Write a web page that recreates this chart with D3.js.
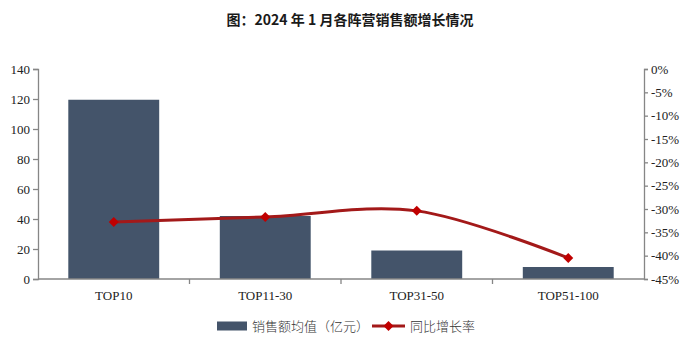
<!DOCTYPE html>
<html>
<head>
<meta charset="utf-8">
<script src="https://cdn.jsdelivr.net/npm/d3@7"></script>
<style>
	body { margin: 0; background: #fff; }
	svg text { font-family: "Liberation Serif", "Times New Roman", serif; }
</style>
</head>
<body>
<div id="viz"></div>
<script>
"use strict";

var categories = ["TOP10", "TOP11-30", "TOP31-50", "TOP51-100"];
var salesAvg = [119.5, 42, 19, 8];            // 销售额均值（亿元）
var yoyGrowth = [-32.8, -31.7, -30.4, -40.5]; // 同比增长率 (%)
var leftTicks = [0, 20, 40, 60, 80, 100, 120, 140];
var rightTicks = [0, -5, -10, -15, -20, -25, -30, -35, -40, -45];

var width = 700,
	height = 353,
	margin = {top: 69, right: 56, bottom: 74, left: 38},
	barColor = "#44546A",
	lineColor = "#A31919",
	markerColor = "#C00000",
	axisColor = "#868686";

var svg = d3.select("#viz")
	.append("svg")
	.attr("width", width)
	.attr("height", height)

svg.append("text")
	.attr("x", width / 2)
	.attr("y", 25)
	.attr("text-anchor", "middle")
	.style("font-family", "'Noto Sans CJK SC', sans-serif")
	.attr("font-size", "14px")
	.attr("font-weight", "bold")
	.attr("fill", "#1a1a1a")
	.text("图：2024 年 1 月各阵营销售额增长情况")

var x = d3.scaleBand()
	.domain(categories)
	.range([margin.left, width - margin.right])
	.paddingInner(0.4)
	.paddingOuter(0.2)

var yLeft = d3.scaleLinear()
	.domain([0, 140])
	.range([height - margin.bottom, margin.top])

var yRight = d3.scaleLinear()
	.domain([-45, 0])
	.range([height - margin.bottom, margin.top])

var styleAxis = function(g) {
	g.select(".domain").attr("stroke", axisColor).attr("stroke-width", 1.3)
	g.selectAll(".tick line").attr("stroke", axisColor).attr("stroke-width", 1.3)
	g.selectAll(".tick text")
		.attr("fill", "#222")
		.attr("font-size", "13px")
		.style("font-family", "'Liberation Serif', serif")
}

// left axis
svg.append("g")
	.attr("transform", "translate(" + margin.left + ",0)")
	.call(d3.axisLeft(yLeft).tickValues(leftTicks).tickSizeOuter(0).tickSize(5).tickPadding(3))
	.call(styleAxis)

// right axis
svg.append("g")
	.attr("transform", "translate(" + (width - margin.right) + ",0)")
	.call(d3.axisRight(yRight).tickValues(rightTicks).tickSizeOuter(0).tickSize(4).tickPadding(3)
		.tickFormat(function(d){ return d + "%" }))
	.call(styleAxis)

// bars
svg.append("g")
	.selectAll("rect")
	.data(categories)
	.enter()
	.append("rect")
	.attr("x", function(d){ return x(d) })
	.attr("width", x.bandwidth())
	.attr("y", function(d, i){ return yLeft(salesAvg[i]) })
	.attr("height", function(d, i){ return yLeft(0) - yLeft(salesAvg[i]) })
	.attr("fill", barColor)

// bottom axis with ticks between categories
var xAxisG = svg.append("g")
	.attr("transform", "translate(0," + yLeft(0) + ")")
xAxisG.append("line")
	.attr("x1", margin.left)
	.attr("x2", width - margin.right)
	.attr("stroke", axisColor)
	.attr("stroke-width", 1.3)
var step = x.step()
xAxisG.selectAll("line.sep")
	.data(categories.slice(1))
	.enter()
	.append("line")
	.attr("class", "sep")
	.attr("x1", function(d){ return x(d) - step * x.paddingInner() / 2 })
	.attr("x2", function(d){ return x(d) - step * x.paddingInner() / 2 })
	.attr("y1", 0)
	.attr("y2", 5)
	.attr("stroke", axisColor)
	.attr("stroke-width", 1.3)
xAxisG.selectAll("text")
	.data(categories)
	.enter()
	.append("text")
	.attr("x", function(d){ return x(d) + x.bandwidth() / 2 })
	.attr("y", 21)
	.attr("text-anchor", "middle")
	.attr("font-size", "13px")
	.attr("fill", "#222")
	.text(function(d){ return d })

// growth line
var points = categories.map(function(c, i){
	return [x(c) + x.bandwidth() / 2, yRight(yoyGrowth[i])]
})

var lineFunction = d3.line()
	.x(function(d){ return d[0] })
	.y(function(d){ return d[1] })
	.curve(d3.curveCardinal.tension(0))

svg.append("path")
	.attr("d", lineFunction(points))
	.attr("stroke", lineColor)
	.attr("stroke-width", 3)
	.attr("fill", "none")

// square rotated 45deg gives the even diamond marker
var diamond = d3.symbol().type(d3.symbolSquare).size(50)

svg.append("g")
	.selectAll("path")
	.data(points)
	.enter()
	.append("path")
	.attr("d", diamond)
	.attr("transform", function(d){ return "translate(" + d[0] + "," + d[1] + ") rotate(45)" })
	.attr("fill", markerColor)

// legend
var legend = svg.append("g")
	.attr("transform", "translate(0,326)")

legend.append("rect")
	.attr("x", 217)
	.attr("y", -4.5)
	.attr("width", 30)
	.attr("height", 9)
	.attr("fill", barColor)

legend.append("text")
	.attr("x", 252)
	.attr("y", 5)
	.attr("font-size", "13px")
	.style("font-family", "'Noto Sans CJK SC', sans-serif")
	.attr("font-weight", 300)
	.attr("fill", "#333")
	.text("销售额均值（亿元）")

legend.append("line")
	.attr("x1", 372)
	.attr("x2", 405)
	.attr("stroke", lineColor)
	.attr("stroke-width", 3)

legend.append("path")
	.attr("d", diamond)
	.attr("transform", "translate(388.5,0) rotate(45)")
	.attr("fill", markerColor)

legend.append("text")
	.attr("x", 410)
	.attr("y", 5)
	.attr("font-size", "13px")
	.style("font-family", "'Noto Sans CJK SC', sans-serif")
	.attr("font-weight", 300)
	.attr("fill", "#333")
	.text("同比增长率")
</script>
</body>
</html>
